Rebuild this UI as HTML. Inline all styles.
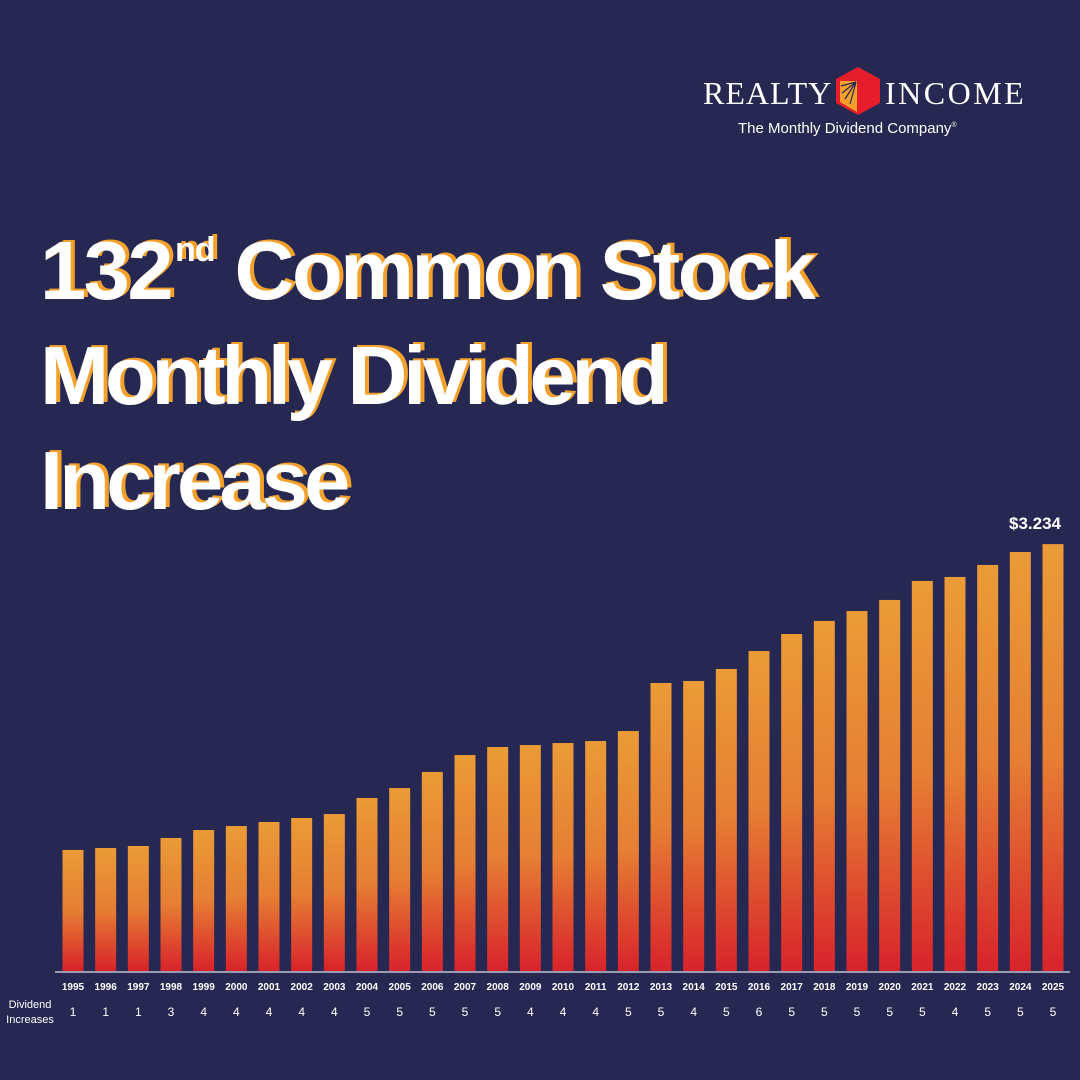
<!DOCTYPE html>
<html><head><meta charset="utf-8"><style>
html,body{margin:0;padding:0;}
body{width:1080px;height:1080px;background:#262852;position:relative;overflow:hidden;font-family:"Liberation Sans",sans-serif;}
.title{position:absolute;left:40px;color:#fff;font-weight:bold;font-size:83px;letter-spacing:-3px;text-shadow:4px -2px 0 #f4a12c;white-space:nowrap;line-height:1;}
.title sup{font-size:34px;vertical-align:top;position:relative;top:4px;letter-spacing:-1px;margin-left:4px;margin-right:20px;}
</style></head><body>
<div style="position:absolute;left:700px;top:62px;width:330px;height:80px;">
  <div style="position:absolute;left:3px;top:13px;font-family:'Liberation Serif',serif;font-size:32px;color:#fff;letter-spacing:1px;">REALTY</div>
  <svg style="position:absolute;left:135px;top:4px" width="46" height="50" viewBox="0 0 46 50">
    <polygon points="23,1 45,13 45,37 23,49 1,37 1,13" fill="#e61e2b"/>
    <polygon points="5,15 22,15 22,46 5,36" fill="#f4a12c"/>
    <g stroke="#262852" stroke-width="1.2"><line x1="21" y1="16" x2="6" y2="20"/><line x1="21" y1="16" x2="7" y2="27"/><line x1="21" y1="16" x2="10" y2="33"/><line x1="21" y1="16" x2="15" y2="38"/></g>
  </svg>
  <div style="position:absolute;left:185px;top:13px;font-family:'Liberation Serif',serif;font-size:32px;color:#fff;letter-spacing:2.5px;">INCOME</div>
  <div style="position:absolute;left:38px;top:58px;font-size:15px;color:#fff;white-space:nowrap;">The Monthly Dividend Company<sup style="font-size:7px">®</sup></div>
</div>
<div class="title" style="top:229px;letter-spacing:-2.5px;">132<sup>nd</sup>Common Stock</div>
<div class="title" style="top:334px;letter-spacing:-4.2px;">Monthly Dividend</div>
<div class="title" style="top:439px;letter-spacing:-3.8px;">Increase</div>
<svg id="chart" width="1080" height="1080" style="position:absolute;left:0;top:0">
  <defs><linearGradient id="bg" x1="0" y1="0" x2="0" y2="1"><stop offset="0" stop-color="#ea9b36"/><stop offset="0.5" stop-color="#e67e33"/><stop offset="1" stop-color="#d8232b"/></linearGradient></defs>
</svg>
<script>
const years=[1995,1996,1997,1998,1999,2000,2001,2002,2003,2004,2005,2006,2007,2008,2009,2010,2011,2012,2013,2014,2015,2016,2017,2018,2019,2020,2021,2022,2023,2024,2025];
const dividends=[0.917,0.932,0.947,1.008,1.068,1.098,1.129,1.159,1.189,1.311,1.386,1.508,1.636,1.697,1.712,1.727,1.742,1.818,2.182,2.197,2.288,2.424,2.553,2.652,2.727,2.811,2.955,2.985,3.076,3.174,3.234];
const increases=[1,1,1,3,4,4,4,4,4,5,5,5,5,5,4,4,4,5,5,4,5,6,5,5,5,5,5,4,5,5,5];
const svg=document.getElementById('chart');
const NS='http://www.w3.org/2000/svg';
const baseY=971, pxPer=132.0, x0=73, step=(1053-73)/30, bw=21;
const xc=i=>x0+i*step;
const yv=v=>baseY-v*pxPer;
function mk(t,a){const e=document.createElementNS(NS,t);for(const k in a)e.setAttribute(k,a[k]);svg.appendChild(e);return e;}
years.forEach((yr,i)=>{
  const r=mk('rect',{x:xc(i)-bw/2,y:yv(dividends[i]),width:bw,height:baseY-yv(dividends[i]),fill:'url(#bg)'});
  
  
  const t=mk('text',{x:xc(i),y:990,'text-anchor':'middle','font-size':'10','font-weight':'bold',fill:'#fff','font-family':'Liberation Sans'});
  t.textContent=yr;
  
  
  const n=mk('text',{x:xc(i),y:1016,'text-anchor':'middle','font-size':'12',fill:'#fff','font-family':'Liberation Sans'});
  n.textContent=increases[i];
  
  
});
const ax=mk('line',{x1:55,x2:1070,y1:972,y2:972,stroke:'#9a9bb0','stroke-width':2});


const last=dividends.length-1;
const lbl=mk('text',{x:xc(last)-18,y:yv(dividends[last])-15,'text-anchor':'middle','font-size':'17','font-weight':'bold',fill:'#fff','font-family':'Liberation Sans'});
lbl.textContent='$'+dividends[last].toFixed(3);


const d1=mk('text',{x:30,y:1008,'text-anchor':'middle','font-size':'11',fill:'#fff','font-family':'Liberation Sans'});
d1.textContent='Dividend';


const d2=mk('text',{x:30,y:1023,'text-anchor':'middle','font-size':'11',fill:'#fff','font-family':'Liberation Sans'});
d2.textContent='Increases';


</script>
</body></html>
